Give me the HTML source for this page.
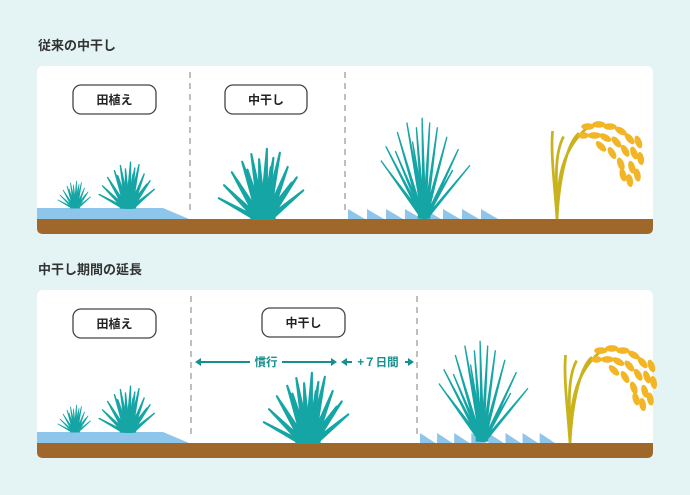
<!DOCTYPE html>
<html><head><meta charset="utf-8"><style>
body{margin:0;background:#e4f4f4;}
svg{display:block}
text{font-family:"Liberation Sans","Noto Sans CJK JP",sans-serif;font-weight:bold}
</style></head><body>
<svg width="690" height="495" viewBox="0 0 690 495" xmlns="http://www.w3.org/2000/svg">
<defs>
<g id="tuft" fill="#16a5a5" stroke="#16a5a5" stroke-width="1.6" stroke-linejoin="round">
<path d="M-9,0 L-5,-26 L5,-26 L9,0Z"/>
<path d="M-6,0 L-30,-26 L-1,0Z"/><path d="M-5,0 L-24,-36 L0,0Z"/>
<path d="M-4,0 L-16,-44 L1,0Z"/><path d="M-3,0 L-9,-50 L2,0Z"/>
<path d="M-3,0 L-3,-46 L2,0Z"/><path d="M-2,0 L3,-54 L3,0Z"/>
<path d="M-1,0 L8,-47 L4,0Z"/><path d="M0,0 L13,-51 L5,0Z"/>
<path d="M1,0 L19,-40 L6,0Z"/><path d="M1,0 L26,-32 L6,0Z"/>
<path d="M2,0 L31,-22 L7,0Z"/><path d="M-7,0 L-34,-16 L-2,0Z"/>
<path d="M-3,0 L-12,-38 L1,0Z"/><path d="M0,0 L6,-40 L4,0Z"/>
<path d="M-4,0 L-20,-30 L0,0Z"/><path d="M0,0 L22,-28 L5,0Z"/>
</g>
<g id="big" fill="#16a5a5" stroke="#16a5a5" stroke-width="1.4" stroke-linejoin="round">
<path d="M-6,0 L-4,-30 L4,-30 L6,0Z"/>
<path d="M-3,0 L-45,-60 L-1,0Z"/><path d="M-3,0 L-40,-75 L0,0Z"/>
<path d="M-3,0 L-28,-90 L0,0Z"/><path d="M-2,0 L-18,-100 L1,0Z"/>
<path d="M-2,0 L-8,-95 L1,0Z"/><path d="M-1,0 L-2,-105 L2,0Z"/>
<path d="M-1,0 L6,-100 L2,0Z"/><path d="M0,0 L14,-95 L3,0Z"/>
<path d="M0,0 L24,-85 L3,0Z"/><path d="M1,0 L36,-72 L4,0Z"/>
<path d="M1,0 L48,-55 L4,0Z"/><path d="M-2,0 L-30,-70 L1,0Z"/>
<path d="M0,0 L20,-70 L3,0Z"/><path d="M-1,0 L-12,-80 L2,0Z"/>
<path d="M-2,0 L-36,-48 L1,0Z"/><path d="M0,0 L30,-50 L3,0Z"/>
</g>
<g id="saw" fill="#8ec5ea">
<path d="M0,0 L0,-10 L17,0Z"/><path d="M19,0 L19,-10 L36,0Z"/><path d="M38,0 L38,-10 L55,0Z"/><path d="M57,0 L57,-10 L74,0Z"/>
<path d="M76,0 L76,-10 L93,0Z"/><path d="M95,0 L95,-10 L112,0Z"/><path d="M114,0 L114,-10 L131,0Z"/><path d="M133,0 L133,-10 L150,0Z"/>
</g>
<g id="rice">
<path d="M0,0 C-2,-30 -6,-60 -4,-80 M0,0 C0,-35 4,-65 30,-85 M0,0 C2,-40 10,-70 20,-78 M0,0 C-1,-40 -2,-60 6,-75" stroke="#c9b21c" stroke-width="2.5" fill="none"/>
<g fill="#f2b525">
<ellipse cx="28" cy="-84" rx="6" ry="3"/><ellipse cx="38" cy="-86" rx="6" ry="3"/><ellipse cx="48" cy="-84" rx="6" ry="3"/>
<ellipse cx="58" cy="-80" rx="6" ry="3" transform="rotate(30 58 -80)"/><ellipse cx="66" cy="-73" rx="6" ry="3" transform="rotate(50 66 -73)"/>
<ellipse cx="34" cy="-76" rx="6" ry="3"/><ellipse cx="44" cy="-74" rx="6" ry="3" transform="rotate(30 44 -74)"/>
<ellipse cx="54" cy="-70" rx="6" ry="3" transform="rotate(50 54 -70)"/><ellipse cx="62" cy="-62" rx="6" ry="3" transform="rotate(60 62 -62)"/>
<ellipse cx="70" cy="-60" rx="6" ry="3" transform="rotate(70 70 -60)"/><ellipse cx="50" cy="-60" rx="6" ry="3" transform="rotate(60 50 -60)"/>
<ellipse cx="58" cy="-50" rx="6" ry="3" transform="rotate(70 58 -50)"/><ellipse cx="68" cy="-47" rx="6" ry="3" transform="rotate(75 68 -47)"/>
<ellipse cx="66" cy="-35" rx="6" ry="3" transform="rotate(80 66 -35)"/><ellipse cx="40" cy="-66" rx="6" ry="3" transform="rotate(45 40 -66)"/>
<ellipse cx="24" cy="-76" rx="5" ry="3"/><ellipse cx="74" cy="-70" rx="6" ry="3" transform="rotate(70 74 -70)"/>
<ellipse cx="60" cy="-40" rx="6" ry="3" transform="rotate(75 60 -40)"/><ellipse cx="76" cy="-55" rx="6" ry="3" transform="rotate(80 76 -55)"/>
<ellipse cx="73" cy="-40" rx="6" ry="3" transform="rotate(80 73 -40)"/>
</g></g>
</defs>

<text x="38" y="50" font-size="13" fill="#333">従来の中干し</text>
<rect x="37" y="66" width="616" height="168" rx="6" fill="#fff"/>
<path d="M37,208 L163,208 L189,219 L37,219Z" fill="#8ec5ea"/>
<path d="M37,219 H653 V228 Q653,234 647,234 H43 Q37,234 37,228Z" fill="#a0672a"/>
<line x1="190" y1="72" x2="190" y2="214" stroke="#aaa" stroke-width="1.5" stroke-dasharray="6,5"/>
<line x1="345" y1="72" x2="345" y2="214" stroke="#aaa" stroke-width="1.5" stroke-dasharray="6,5"/>
<rect x="73" y="85" width="83" height="29" rx="8" fill="#fff" stroke="#444" stroke-width="1.3"/>
<text x="114.5" y="104" font-size="12" text-anchor="middle" fill="#222">田植え</text>
<rect x="225" y="85" width="82" height="29" rx="8" fill="#fff" stroke="#444" stroke-width="1.3"/>
<text x="266" y="104" font-size="12" text-anchor="middle" fill="#222">中干し</text>
<use href="#tuft" transform="translate(75,208) scale(0.5)"/>
<use href="#tuft" transform="translate(128,208) scale(0.85)"/>
<use href="#tuft" transform="translate(263,219) scale(1.3)"/>
<use href="#saw" transform="translate(348,219)"/>
<use href="#big" transform="translate(424,218) scale(0.95)"/>
<use href="#rice" transform="translate(557,219) scale(1.1)"/>

<text x="38" y="274" font-size="13" fill="#333">中干し期間の延長</text>
<rect x="37" y="290" width="616" height="168" rx="6" fill="#fff"/>
<path d="M37,432 L163,432 L189,443 L37,443Z" fill="#8ec5ea"/>
<path d="M37,443 H653 V452 Q653,458 647,458 H43 Q37,458 37,452Z" fill="#a0672a"/>
<line x1="191" y1="296" x2="191" y2="438" stroke="#aaa" stroke-width="1.5" stroke-dasharray="6,5"/>
<line x1="417" y1="296" x2="417" y2="438" stroke="#aaa" stroke-width="1.5" stroke-dasharray="6,5"/>
<rect x="73" y="309" width="83" height="29" rx="8" fill="#fff" stroke="#444" stroke-width="1.3"/>
<text x="114.5" y="328" font-size="12" text-anchor="middle" fill="#222">田植え</text>
<rect x="262" y="308" width="83" height="29" rx="8" fill="#fff" stroke="#444" stroke-width="1.3"/>
<text x="303.5" y="327" font-size="12" text-anchor="middle" fill="#222">中干し</text>
<g stroke="#168f8f" stroke-width="2" fill="#168f8f">
<line x1="198" y1="362" x2="250" y2="362"/><line x1="282" y1="362" x2="333" y2="362"/>
<line x1="345" y1="362" x2="352" y2="362"/><line x1="405" y1="362" x2="410" y2="362"/>
</g>
<g fill="#168f8f">
<path d="M195,362 L201,358 L201,366Z"/><path d="M337,362 L331,358 L331,366Z"/>
<path d="M341,362 L347,358 L347,366Z"/><path d="M414,362 L408,358 L408,366Z"/>
</g>
<text x="266" y="366" font-size="11.5" text-anchor="middle" fill="#168f8f">慣行</text>
<text x="378" y="366" font-size="11.5" text-anchor="middle" fill="#168f8f">+７日間</text>
<use href="#tuft" transform="translate(308,443) scale(1.3)"/>
<use href="#tuft" transform="translate(75,432) scale(0.5)"/>
<use href="#tuft" transform="translate(128,432) scale(0.85)"/>
<use href="#saw" transform="translate(420,443) scale(0.9,1)"/>
<use href="#big" transform="translate(482,441) scale(0.95)"/>
<use href="#rice" transform="translate(570,443) scale(1.1)"/>
</svg>
</body></html>
